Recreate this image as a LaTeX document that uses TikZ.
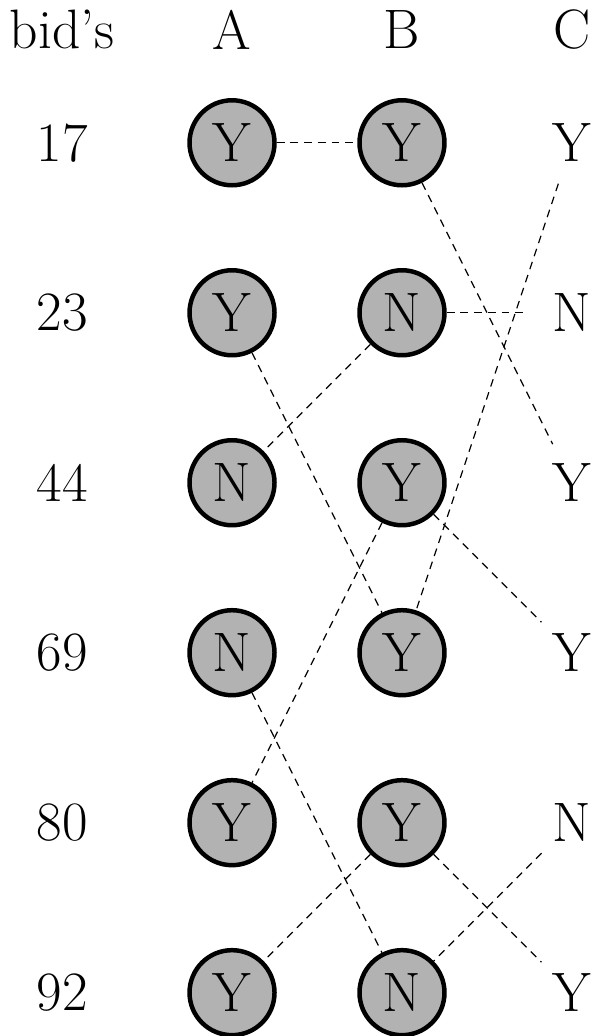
\documentclass[tikz,border=0pt]{standalone}
\usepackage{tikz}
\usetikzlibrary{shapes,arrows,positioning}

\begin{document}
\begin{tikzpicture}[
	every node/.style={font=\fontsize{18.6}{22}\selectfont},
	bidder/.style={circle,draw=black,fill=black!30,line width=1.5pt,minimum size=1cm,inner sep=0pt},
	free/.style={circle,minimum size=1cm,inner sep=0pt},
	link/.style={dash pattern=on 2.6pt off 2pt}]
	\useasboundingbox (-0.73,1.68) rectangle (6.29,-10.51);
	%% the header
	\node (bids) at (0,1.33) {bid's};
	\node (hA) at (2,1.33) {A};
	\node (hB) at (4,1.33) {B};
	\node (hC) at (6,1.33) {C};
	%% the bids
	\node (n17) at (0,0) {17};
	\node (n23) at (0,-2) {23};
	\node (n44) at (0,-4) {44};
	\node (n69) at (0,-6) {69};
	\node (n80) at (0,-8) {80};
	\node (n92) at (0,-10) {92};
	%% column A
	\node[bidder] (a17) at (2,0) {Y};
	\node[bidder] (a23) at (2,-2) {Y};
	\node[bidder] (a44) at (2,-4) {N};
	\node[bidder] (a69) at (2,-6) {N};
	\node[bidder] (a80) at (2,-8) {Y};
	\node[bidder] (a92) at (2,-10) {Y};
	%% column B
	\node[bidder] (b17) at (4,0) {Y};
	\node[bidder] (b23) at (4,-2) {N};
	\node[bidder] (b44) at (4,-4) {Y};
	\node[bidder] (b69) at (4,-6) {Y};
	\node[bidder] (b80) at (4,-8) {Y};
	\node[bidder] (b92) at (4,-10) {N};
	%% column C
	\node[free] (c17) at (6,0) {Y};
	\node[free] (c23) at (6,-2) {N};
	\node[free] (c44) at (6,-4) {Y};
	\node[free] (c69) at (6,-6) {Y};
	\node[free] (c80) at (6,-8) {N};
	\node[free] (c92) at (6,-10) {Y};
	%% the dashed links
	\draw[link] (a17) -- (b17);
	\draw[link] (b17) -- (c44);
	\draw[link] (c17) -- (b69);
	\draw[link] (b23) -- (c23);
	\draw[link] (a23) -- (b69);
	\draw[link] (b23) -- (a44);
	\draw[link] (b44) -- (c69);
	\draw[link] (b44) -- (a80);
	\draw[link] (a69) -- (b92);
	\draw[link] (b80) -- (a92);
	\draw[link] (b80) -- (c92);
	\draw[link] (c80) -- (b92);
\end{tikzpicture}
\end{document}
